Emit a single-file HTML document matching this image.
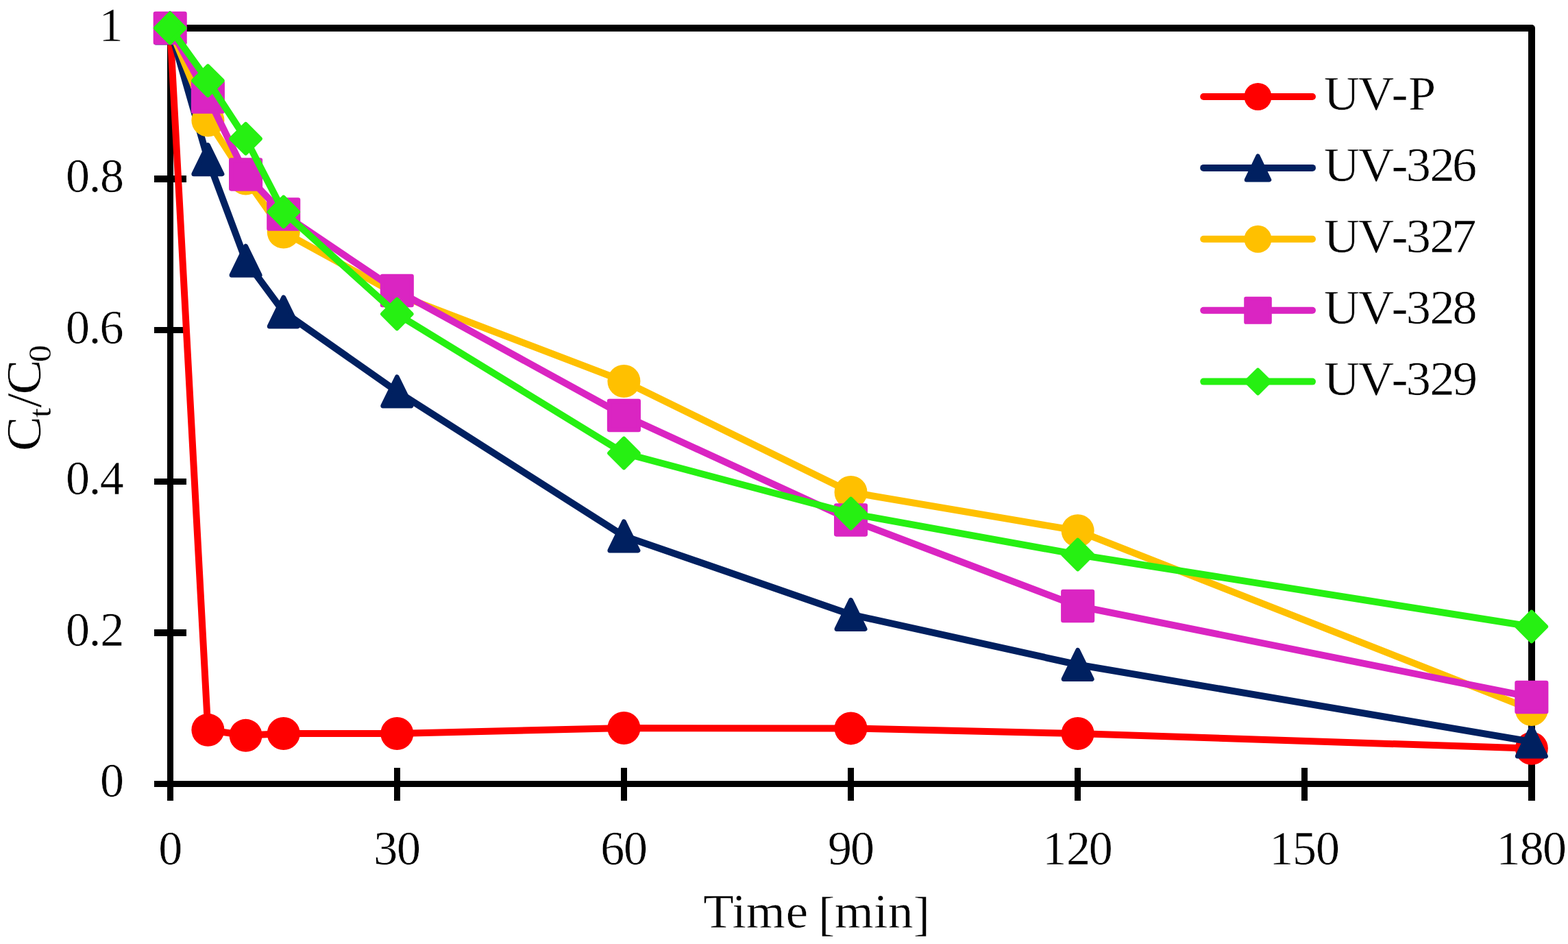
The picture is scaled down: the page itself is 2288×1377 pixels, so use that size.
<!DOCTYPE html>
<html lang="en">
<head>
<meta charset="utf-8">
<title>Ct/C0 versus Time [min] for UV-P, UV-326, UV-327, UV-328 and UV-329</title>
<style>
html,body{margin:0;padding:0;background:#fff;}
body{width:2288px;height:1377px;overflow:hidden;}
svg{display:block;}
.sub{stroke-width:0.2px;}
text{font-family:"Liberation Serif", "DejaVu Serif", serif;font-size:70px;fill:#000;font-kerning:none;stroke:#fff;stroke-width:0.5px;}
</style>
</head>
<body>
<svg width="2288" height="1377" viewBox="0 0 2288 1377" role="img" aria-label="Line chart of Ct/C0 against time">
<rect x="0" y="0" width="2288" height="1377" fill="#ffffff"/>
<g id="axes" fill="#000" stroke="none">
<polyline points="248.5,41 2235,41 2235,1168" fill="none" stroke="#000" stroke-width="10" stroke-linejoin="round"/>
<rect x="244" y="36" width="9" height="1132"/>
<rect x="225" y="1139" width="2015" height="9"/>
<rect x="225" y="256" width="47" height="10"/>
<rect x="225" y="477" width="47" height="9"/>
<rect x="225" y="698" width="47" height="9"/>
<rect x="225" y="918" width="47" height="10"/>
<rect x="575" y="1120" width="9" height="48"/>
<rect x="906" y="1120" width="9" height="48"/>
<rect x="1237" y="1120" width="9" height="48"/>
<rect x="1568" y="1120" width="9" height="48"/>
<rect x="1899" y="1120" width="9" height="48"/>
</g>
<g id="ylabels">
<text x="144.52" y="59.9">1</text>
<text x="95.9 129.65 145.89" y="280.4">0.8</text>
<text x="95.9 129.65 145.43" y="500.9">0.6</text>
<text x="95.9 129.65 145.76" y="721.4">0.4</text>
<text x="95.9 129.65 146.29" y="941.9">0.2</text>
<text x="145.9" y="1162.4">0</text>
</g>
<g id="xlabels">
<text x="231.2" y="1260.6">0</text>
<text x="545.31 578.95" y="1260.6">30</text>
<text x="876.24 910.03" y="1260.6">60</text>
<text x="1208.09 1241.11" y="1260.6">90</text>
<text x="1521.23 1555.93 1588.86" y="1260.6">120</text>
<text x="1852.31 1885.95 1919.94" y="1260.6">150</text>
<text x="2183.39 2217.7 2251.03" y="1260.6">180</text>
</g>
<text x="986.79 1027.37 1047.2 1102.63 1134.52 1148.02 1171.19 1226.31 1246.22 1281.5" y="1352.85 1352.85 1352.85 1352.85 1352.85 1356.55 1352.85 1352.85 1352.85 1356.55" id="xtitle" transform="scale(1.04 1)">Time [min]</text>
<text id="ytitle" transform="translate(58.57 656) rotate(-90) scale(1.09 1.03)" x="-2.02" y="0">C<tspan class="sub" font-size="46px" x="43.06" y="15.15">t</tspan><tspan x="56.1 73.94" y="0">/C</tspan><tspan class="sub" font-size="46px" x="117.31" y="15.15">0</tspan></text>
<g id="s-uv-p">
<polyline points="248.2,41 303.38,1064.8 358.57,1072.8 413.75,1070 579.31,1070 910.42,1062 1241.53,1062.4 1572.64,1070 2234.86,1091.75" fill="none" stroke="#FF0000" stroke-width="10" stroke-linejoin="round" stroke-linecap="round"/>
<circle cx="248.2" cy="41" r="24" fill="#FF0000"/>
<circle cx="303.38" cy="1064.8" r="24" fill="#FF0000"/>
<circle cx="358.57" cy="1072.8" r="24" fill="#FF0000"/>
<circle cx="413.75" cy="1070" r="24" fill="#FF0000"/>
<circle cx="579.31" cy="1070" r="24" fill="#FF0000"/>
<circle cx="910.42" cy="1062" r="24" fill="#FF0000"/>
<circle cx="1241.53" cy="1062.4" r="24" fill="#FF0000"/>
<circle cx="1572.64" cy="1070" r="24" fill="#FF0000"/>
<circle cx="2234.86" cy="1091.75" r="24" fill="#FF0000"/>
</g>
<g id="s-uv-326">
<polyline points="248.2,41 303.38,232.7 358.57,380.2 413.75,454.9 579.31,571 910.42,781.9 1241.53,896.4 1572.64,969.5 2234.86,1082" fill="none" stroke="#002060" stroke-width="10" stroke-linejoin="round" stroke-linecap="round"/>
<polygon points="248.2,19.9 268.8,62.1 227.6,62.1" fill="#002060" stroke="#002060" stroke-width="6.8" stroke-linejoin="round"/>
<polygon points="303.38,211.6 323.99,253.8 282.78,253.8" fill="#002060" stroke="#002060" stroke-width="6.8" stroke-linejoin="round"/>
<polygon points="358.57,359.1 379.17,401.3 337.97,401.3" fill="#002060" stroke="#002060" stroke-width="6.8" stroke-linejoin="round"/>
<polygon points="413.75,433.8 434.36,476 393.15,476" fill="#002060" stroke="#002060" stroke-width="6.8" stroke-linejoin="round"/>
<polygon points="579.31,549.9 599.91,592.1 558.71,592.1" fill="#002060" stroke="#002060" stroke-width="6.8" stroke-linejoin="round"/>
<polygon points="910.42,760.8 931.02,803 889.82,803" fill="#002060" stroke="#002060" stroke-width="6.8" stroke-linejoin="round"/>
<polygon points="1241.53,875.3 1262.13,917.5 1220.93,917.5" fill="#002060" stroke="#002060" stroke-width="6.8" stroke-linejoin="round"/>
<polygon points="1572.64,948.4 1593.24,990.6 1552.04,990.6" fill="#002060" stroke="#002060" stroke-width="6.8" stroke-linejoin="round"/>
<polygon points="2234.86,1060.9 2255.46,1103.1 2214.26,1103.1" fill="#002060" stroke="#002060" stroke-width="6.8" stroke-linejoin="round"/>
</g>
<g id="s-uv-327">
<polyline points="248.2,41 303.38,175.5 358.57,260.5 413.75,338.5 579.31,429.5 910.42,556 1241.53,718 1572.64,774.25 2234.86,1035" fill="none" stroke="#FFC000" stroke-width="10" stroke-linejoin="round" stroke-linecap="round"/>
<circle cx="248.2" cy="41" r="24" fill="#FFC000"/>
<circle cx="303.38" cy="175.5" r="24" fill="#FFC000"/>
<circle cx="358.57" cy="260.5" r="24" fill="#FFC000"/>
<circle cx="413.75" cy="338.5" r="24" fill="#FFC000"/>
<circle cx="579.31" cy="429.5" r="24" fill="#FFC000"/>
<circle cx="910.42" cy="556" r="24" fill="#FFC000"/>
<circle cx="1241.53" cy="718" r="24" fill="#FFC000"/>
<circle cx="1572.64" cy="774.25" r="24" fill="#FFC000"/>
<circle cx="2234.86" cy="1035" r="24" fill="#FFC000"/>
</g>
<g id="s-uv-328">
<polyline points="248.2,41 303.38,141.5 358.57,254.4 413.75,312.5 579.31,424 910.42,606 1241.53,758.4 1572.64,884 2234.86,1017" fill="none" stroke="#DA25C2" stroke-width="10" stroke-linejoin="round" stroke-linecap="round"/>
<rect x="226.95" y="20.05" width="42.5" height="41.9" fill="#DA25C2" stroke="#DA25C2" stroke-width="6.6" stroke-linejoin="round"/>
<rect x="282.13" y="120.55" width="42.5" height="41.9" fill="#DA25C2" stroke="#DA25C2" stroke-width="6.6" stroke-linejoin="round"/>
<rect x="337.32" y="233.45" width="42.5" height="41.9" fill="#DA25C2" stroke="#DA25C2" stroke-width="6.6" stroke-linejoin="round"/>
<rect x="392.5" y="291.55" width="42.5" height="41.9" fill="#DA25C2" stroke="#DA25C2" stroke-width="6.6" stroke-linejoin="round"/>
<rect x="558.06" y="403.05" width="42.5" height="41.9" fill="#DA25C2" stroke="#DA25C2" stroke-width="6.6" stroke-linejoin="round"/>
<rect x="889.17" y="585.05" width="42.5" height="41.9" fill="#DA25C2" stroke="#DA25C2" stroke-width="6.6" stroke-linejoin="round"/>
<rect x="1220.28" y="737.45" width="42.5" height="41.9" fill="#DA25C2" stroke="#DA25C2" stroke-width="6.6" stroke-linejoin="round"/>
<rect x="1551.39" y="863.05" width="42.5" height="41.9" fill="#DA25C2" stroke="#DA25C2" stroke-width="6.6" stroke-linejoin="round"/>
<rect x="2213.61" y="996.05" width="42.5" height="41.9" fill="#DA25C2" stroke="#DA25C2" stroke-width="6.6" stroke-linejoin="round"/>
</g>
<g id="s-uv-329">
<polyline points="248.2,41 303.38,117.7 358.57,202.3 413.75,309 579.31,458 910.42,661 1241.53,749 1572.64,809 2234.86,914" fill="none" stroke="#26F012" stroke-width="10" stroke-linejoin="round" stroke-linecap="round"/>
<polygon points="248.2,20.05 269.15,41 248.2,61.95 227.25,41" fill="#26F012" stroke="#26F012" stroke-width="6.6" stroke-linejoin="round"/>
<polygon points="303.38,96.75 324.33,117.7 303.38,138.65 282.44,117.7" fill="#26F012" stroke="#26F012" stroke-width="6.6" stroke-linejoin="round"/>
<polygon points="358.57,181.35 379.52,202.3 358.57,223.25 337.62,202.3" fill="#26F012" stroke="#26F012" stroke-width="6.6" stroke-linejoin="round"/>
<polygon points="413.75,288.05 434.7,309 413.75,329.95 392.81,309" fill="#26F012" stroke="#26F012" stroke-width="6.6" stroke-linejoin="round"/>
<polygon points="579.31,437.05 600.26,458 579.31,478.95 558.36,458" fill="#26F012" stroke="#26F012" stroke-width="6.6" stroke-linejoin="round"/>
<polygon points="910.42,640.05 931.37,661 910.42,681.95 889.47,661" fill="#26F012" stroke="#26F012" stroke-width="6.6" stroke-linejoin="round"/>
<polygon points="1241.53,728.05 1262.48,749 1241.53,769.95 1220.58,749" fill="#26F012" stroke="#26F012" stroke-width="6.6" stroke-linejoin="round"/>
<polygon points="1572.64,788.05 1593.59,809 1572.64,829.95 1551.69,809" fill="#26F012" stroke="#26F012" stroke-width="6.6" stroke-linejoin="round"/>
<polygon points="2234.86,893.05 2255.81,914 2234.86,934.95 2213.91,914" fill="#26F012" stroke="#26F012" stroke-width="6.6" stroke-linejoin="round"/>
</g>
<g id="legend">
<line x1="1756.2" y1="141" x2="1915" y2="141" stroke="#FF0000" stroke-width="10" stroke-linecap="round"/>
<circle cx="1835.5" cy="141" r="20" fill="#FF0000"/>
<text x="1875.6 1924.24 1971.42 1995.2" y="160" transform="scale(1.03 1)">UV-P</text>
<line x1="1756.2" y1="244.9" x2="1915" y2="244.9" stroke="#002060" stroke-width="10" stroke-linecap="round"/>
<polygon points="1835.5,227.4 1852.25,262.4 1818.75,262.4" fill="#002060" stroke="#002060" stroke-width="6" stroke-linejoin="round"/>
<text x="1875.6 1924.24 1971.42 1991.9 2025.61 2057.38" y="263.9" transform="scale(1.03 1)">UV-326</text>
<line x1="1756.2" y1="348.8" x2="1915" y2="348.8" stroke="#FFC000" stroke-width="10" stroke-linecap="round"/>
<circle cx="1835.5" cy="348.8" r="20" fill="#FFC000"/>
<text x="1875.6 1924.24 1971.42 1991.9 2025.61 2056.54" y="367.8" transform="scale(1.03 1)">UV-327</text>
<line x1="1756.2" y1="452.7" x2="1915" y2="452.7" stroke="#DA25C2" stroke-width="10" stroke-linecap="round"/>
<rect x="1818" y="435.5" width="35" height="34.4" fill="#DA25C2" stroke="#DA25C2" stroke-width="5.6" stroke-linejoin="round"/>
<text x="1875.6 1924.24 1971.42 1991.9 2025.61 2057.84" y="471.7" transform="scale(1.03 1)">UV-328</text>
<line x1="1756.2" y1="556.6" x2="1915" y2="556.6" stroke="#26F012" stroke-width="10" stroke-linecap="round"/>
<polygon points="1835.5,539.4 1852.7,556.6 1835.5,573.8 1818.3,556.6" fill="#26F012" stroke="#26F012" stroke-width="5.6" stroke-linejoin="round"/>
<text x="1875.6 1924.24 1971.42 1991.9 2025.61 2058.15" y="575.6" transform="scale(1.03 1)">UV-329</text>
</g>
</svg>
</body>
</html>
